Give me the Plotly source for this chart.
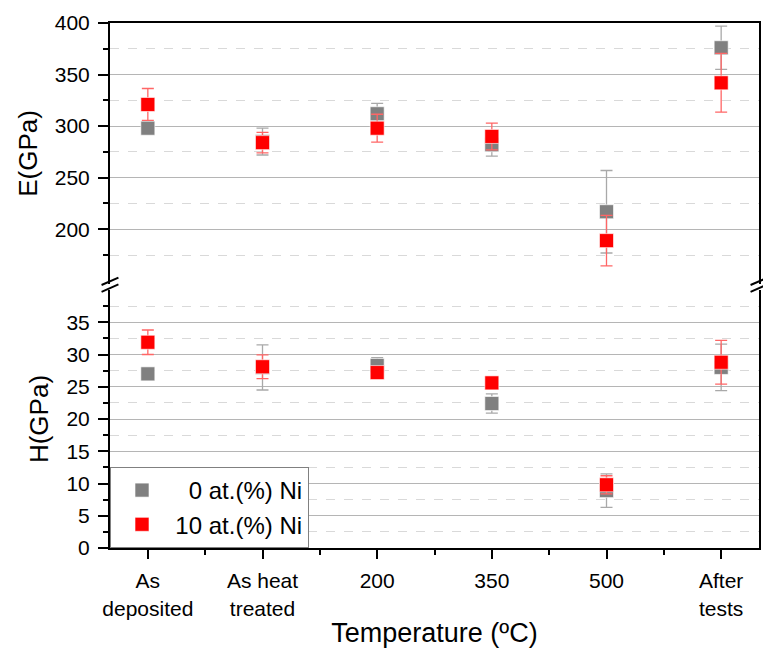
import plotly.graph_objects as go

categories = ["As<br>deposited", "As heat<br>treated", "200", "350", "500", "After<br>tests"]
cat_pos = [0, 1, 2, 3, 4, 5]

E_ni0 = [298, 285, 312, 282, 217, 376]
E_ni0_err = [3, 13, 10, 11, 40, 21]
E_ni10 = [321, 284, 298, 290, 189, 342]
E_ni10_err = [15.5, 10, 13.5, 13, 24.5, 28.5]

H_ni0 = [27.0, 28.0, 28.3, 22.4, 8.9, 28.0]
H_ni0_err = [0.3, 3.5, 1.2, 1.5, 2.6, 3.6]
H_ni10 = [31.9, 28.1, 27.2, 25.6, 9.8, 28.8]
H_ni10_err = [1.9, 1.85, 0.4, 0.3, 1.4, 3.4]

labels = ["\u2007\u00a0\u00a00 at.(%) Ni", "\u00a0\u00a010 at.(%) Ni"]
GREY = "#808080"
RED = "#ff0000"
FONT = "Liberation Sans, Arial, sans-serif"

fig = go.Figure()

def add_series(x, y, err, color, errcolor, name, yaxis, xaxis, showlegend):
    fig.add_trace(go.Scatter(
        x=x, y=y, mode="markers", name=name, showlegend=showlegend,
        xaxis=xaxis, yaxis=yaxis,
        marker=dict(symbol="square", size=14, color=color,
                    line=dict(color="rgba(255,255,255,0.6)", width=1)),
        error_y=dict(type="data", array=err, visible=True, color=errcolor,
                     thickness=1.3, width=6),
    ))

add_series(cat_pos, E_ni0, E_ni0_err, GREY, "#a9a9a9", labels[0], "y2", "x2", False)
add_series(cat_pos, E_ni10, E_ni10_err, RED, "#ff6666", labels[1], "y2", "x2", False)
add_series(cat_pos, H_ni0, H_ni0_err, GREY, "#a9a9a9", labels[0], "y", "x", True)
add_series(cat_pos, H_ni10, H_ni10_err, RED, "#ff6666", labels[1], "y", "x", True)

tickfont = dict(family=FONT, size=21, color="black")
xr = [-0.33, 5.33]

fig.update_layout(
    width=763, height=650,
    margin=dict(l=110, r=2, t=23, b=102),
    paper_bgcolor="white", plot_bgcolor="white",
    font=dict(family=FONT, color="black"),
    xaxis=dict(
        domain=[0, 1], range=xr, anchor="y",
        tickvals=cat_pos, ticktext=categories, tickfont=tickfont,
        ticks="outside", ticklen=9, tickwidth=2, tickcolor="black",
        minor=dict(tickvals=[0.5, 1.5, 2.5, 3.5, 4.5], ticks="outside", ticklen=5,
                   tickwidth=2, tickcolor="black", showgrid=False),
        showline=True, linewidth=2, linecolor="black", mirror=False,
        showgrid=False, zeroline=False, ticklabelstandoff=4,
        title=dict(text="Temperature (ºC)", font=dict(family=FONT, size=27), standoff=5),
    ),
    xaxis2=dict(
        domain=[0, 1], range=xr, anchor="y2", side="top",
        showticklabels=False, ticks="",
        showline=True, linewidth=2, linecolor="black",
        showgrid=False, zeroline=False,
    ),
    yaxis=dict(
        domain=[0, 0.4914], range=[0, 40], anchor="x",
        tickvals=[0, 5, 10, 15, 20, 25, 30, 35], tickfont=tickfont,
        ticks="outside", ticklen=10, tickwidth=2, tickcolor="black",
        showline=True, linewidth=2, linecolor="black", mirror=True,
        showgrid=True, gridcolor="#b5b5b5", gridwidth=1, zeroline=False,
        minor=dict(tickvals=[2.5, 7.5, 12.5, 17.5, 22.5, 27.5, 32.5, 37.5],
                   ticks="outside", ticklen=5, tickwidth=2, tickcolor="black",
                   showgrid=True, gridcolor="#d9d9d9", griddash="dash", gridwidth=1),
        ticklabelstandoff=4,
        title=dict(text="H(GPa)", font=dict(family=FONT, size=26), standoff=10),
    ),
    yaxis2=dict(
        domain=[0.503, 1], range=[147, 400], anchor="x2",
        tickvals=[200, 250, 300, 350, 400], tickfont=tickfont,
        ticks="outside", ticklen=10, tickwidth=2, tickcolor="black",
        showline=True, linewidth=2, linecolor="black", mirror=True,
        showgrid=True, gridcolor="#b5b5b5", gridwidth=1, zeroline=False,
        minor=dict(tickvals=[175, 225, 275, 325, 375],
                   ticks="outside", ticklen=5, tickwidth=2, tickcolor="black",
                   showgrid=True, gridcolor="#d9d9d9", griddash="dash", gridwidth=1),
        ticklabelstandoff=4,
        title=dict(text="E(GPa)", font=dict(family=FONT, size=26), standoff=10),
    ),
    legend=dict(
        x=0, y=0, xanchor="left", yanchor="bottom",
        bgcolor="white", bordercolor="#808080", borderwidth=1,
        font=dict(family=FONT, size=24, color="black"),
        indentation=11, tracegroupgap=0, itemwidth=30,
    ),
)

# axis-break marks
for xp in [0, 1]:
    for dy in [0.0, 0.013]:
        fig.add_shape(type="line", xref="paper", yref="paper",
                      x0=xp - 0.013, x1=xp + 0.013,
                      y0=0.488 + dy, y1=0.502 + dy,
                      line=dict(color="black", width=2))

fig.write_html("out.html")
